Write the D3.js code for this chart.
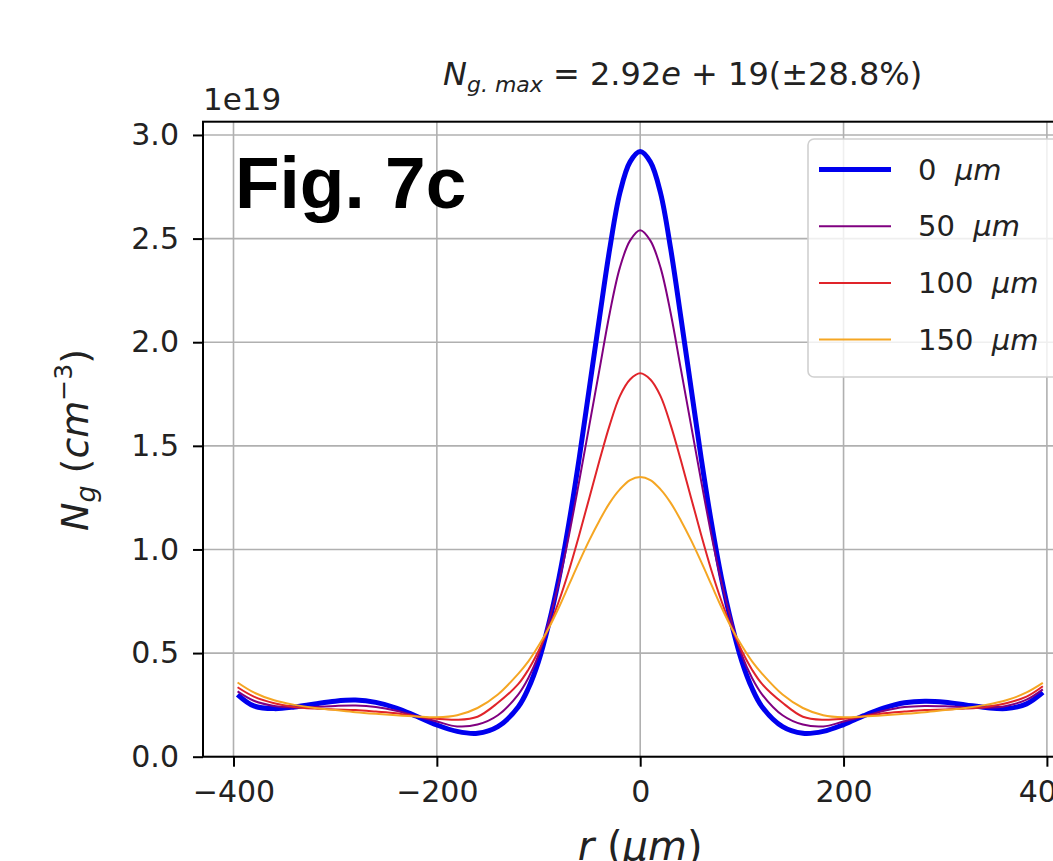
<!DOCTYPE html>
<html>
<head>
<meta charset="utf-8">
<script src="https://cdn.jsdelivr.net/npm/d3@7"></script>
<style>
  body { margin: 0; background: #fff; }
  text { font-family: "DejaVu Sans", sans-serif; }
</style>
</head>
<body>
<div id="chart"></div>
<script>
// radial positions (um) and gas density (1e19 cm^-3)
const radius = [-396, -380, -360, -340, -320, -300, -280, -260, -240, -220, -200, -180, -160, -140,
  -120, -110, -100, -90, -80, -70, -60, -50, -40, -30, -20, -10, 0,
  10, 20, 30, 40, 50, 60, 70, 80, 90, 100, 110, 120,
  140, 160, 180, 200, 220, 240, 260, 280, 300, 320, 340, 360, 380, 396];

const dens0 = [0.30, 0.245, 0.232, 0.24, 0.255, 0.268, 0.273, 0.262, 0.235, 0.195, 0.153, 0.122, 0.113, 0.145,
  0.24, 0.33, 0.46, 0.64, 0.86, 1.13, 1.44, 1.78, 2.12, 2.45, 2.72, 2.87, 2.92,
  2.87, 2.72, 2.45, 2.12, 1.78, 1.44, 1.13, 0.86, 0.64, 0.46, 0.33, 0.24,
  0.145, 0.113, 0.122, 0.155, 0.198, 0.235, 0.26, 0.268, 0.263, 0.25, 0.237, 0.232, 0.255, 0.31];

const dens50 = [0.315, 0.27, 0.245, 0.238, 0.24, 0.245, 0.247, 0.24, 0.222, 0.195, 0.17, 0.146, 0.155, 0.20,
  0.30, 0.38, 0.49, 0.65, 0.84, 1.07, 1.33, 1.60, 1.87, 2.14, 2.36, 2.49, 2.54,
  2.49, 2.36, 2.14, 1.87, 1.60, 1.33, 1.07, 0.84, 0.65, 0.49, 0.38, 0.30,
  0.20, 0.155, 0.146, 0.17, 0.195, 0.222, 0.24, 0.245, 0.243, 0.238, 0.236, 0.245, 0.275, 0.325];

const dens100 = [0.335, 0.29, 0.258, 0.24, 0.232, 0.228, 0.225, 0.218, 0.21, 0.195, 0.183, 0.178, 0.193, 0.26,
  0.35, 0.42, 0.51, 0.62, 0.75, 0.90, 1.07, 1.25, 1.43, 1.60, 1.74, 1.82, 1.85,
  1.82, 1.74, 1.60, 1.43, 1.25, 1.07, 0.90, 0.75, 0.62, 0.51, 0.42, 0.35,
  0.26, 0.193, 0.178, 0.183, 0.195, 0.21, 0.218, 0.225, 0.228, 0.232, 0.24, 0.258, 0.29, 0.34];

const dens150 = [0.358, 0.31, 0.272, 0.25, 0.235, 0.225, 0.215, 0.207, 0.20, 0.194, 0.19, 0.20, 0.235, 0.30,
  0.40, 0.46, 0.535, 0.62, 0.72, 0.83, 0.94, 1.045, 1.14, 1.225, 1.29, 1.335, 1.35,
  1.335, 1.29, 1.225, 1.14, 1.045, 0.94, 0.83, 0.72, 0.62, 0.535, 0.46, 0.40,
  0.30, 0.235, 0.20, 0.19, 0.194, 0.20, 0.207, 0.215, 0.225, 0.235, 0.25, 0.272, 0.31, 0.356];

const seriesNames = ["0", "50", "100", "150"];
const seriesColors = ["#0000ee", "#800080", "#e0242a", "#f5a623"];
const seriesWidths = [5, 2, 2, 2];
const xTicks = [-400, -200, 0, 200, 400];
const yTicks = [0, 0.5, 1.0, 1.5, 2.0, 2.5, 3.0];

const width = 1053, height = 861;
const margin = {top: 121.7, left: 203, bottom: 104.3};
const plotRight = 1077.4;

const svg = d3.select("#chart").append("svg")
  .attr("width", width)
  .attr("height", height);

const x = d3.scaleLinear()
  .domain([-430, 430])
  .range([margin.left, plotRight]);

const y = d3.scaleLinear()
  .domain([0, 3.064])
  .range([height - margin.bottom, margin.top]);

// grid
svg.append("g")
  .selectAll("line")
  .data(xTicks)
  .join("line")
    .attr("x1", d => x(d)).attr("x2", d => x(d))
    .attr("y1", y(0)).attr("y2", y(3.064))
    .attr("stroke", "#b0b0b0").attr("stroke-width", 1.6);

svg.append("g")
  .selectAll("line")
  .data(yTicks)
  .join("line")
    .attr("x1", x(-430)).attr("x2", x(430))
    .attr("y1", d => y(d)).attr("y2", d => y(d))
    .attr("stroke", "#b0b0b0").attr("stroke-width", 1.6);

const line = d3.line()
  .curve(d3.curveCatmullRom)
  .x((d, i) => x(radius[i]))
  .y(d => y(d));

const allSeries = [dens0, dens50, dens100, dens150];

svg.append("g")
  .attr("fill", "none")
  .attr("stroke-linejoin", "round")
  .selectAll("path")
  .data(allSeries)
  .join("path")
    .attr("stroke", (d, i) => seriesColors[i])
    .attr("stroke-width", (d, i) => seriesWidths[i])
    .attr("d", line);

// axes
const xAxis = g => g
  .attr("transform", `translate(0,${y(0)})`)
  .call(d3.axisBottom(x).tickValues(xTicks).tickSize(10).tickPadding(14)
    .tickFormat(d => d < 0 ? "\u2212" + Math.abs(d) : d))
  .call(g => g.select(".domain").remove())
  .call(g => g.selectAll(".tick line").attr("stroke", "#000").attr("stroke-width", 2))
  .call(g => g.selectAll(".tick text").attr("font-size", 30).attr("fill", "#222"));

const yAxis = g => g
  .attr("transform", `translate(${margin.left},0)`)
  .call(d3.axisLeft(y).tickValues(yTicks).tickSize(10).tickPadding(14)
    .tickFormat(d3.format(".1f")))
  .call(g => g.select(".domain").remove())
  .call(g => g.selectAll(".tick line").attr("stroke", "#000").attr("stroke-width", 2))
  .call(g => g.selectAll(".tick text").attr("font-size", 30).attr("fill", "#222"));

svg.append("g").call(xAxis);
svg.append("g").call(yAxis);

// frame
svg.append("rect")
  .attr("x", x(-430)).attr("y", y(3.064))
  .attr("width", x(430) - x(-430)).attr("height", y(0) - y(3.064))
  .attr("fill", "none").attr("stroke", "#000").attr("stroke-width", 2);

// offset text
svg.append("text")
  .attr("x", margin.left).attr("y", 110)
  .attr("font-size", 31).attr("fill", "#222")
  .text("1e19");

// title
const title = svg.append("text")
  .attr("x", 443).attr("y", 85)
  .attr("font-size", 32).attr("fill", "#222");
title.append("tspan").attr("font-style", "italic").text("N");
title.append("tspan").attr("font-style", "italic").attr("font-size", 22).attr("dy", 7).text("g. max");
title.append("tspan").attr("dy", -7).text(" = 2.92");
title.append("tspan").attr("font-style", "italic").text("e");
title.append("tspan").text(" + 19(\u00b128.8%)");

// axis labels
const xl = svg.append("text")
  .attr("x", x(0)).attr("y", 860)
  .attr("text-anchor", "middle")
  .attr("font-size", 40).attr("fill", "#222");
xl.append("tspan").attr("font-style", "italic").text("r");
xl.append("tspan").text(" (");
xl.append("tspan").attr("font-style", "italic").text("\u03bcm");
xl.append("tspan").text(")");

const yl = svg.append("text")
  .attr("transform", `translate(88,440) rotate(-90)`)
  .attr("text-anchor", "middle")
  .attr("font-size", 38).attr("fill", "#222");
yl.append("tspan").attr("font-style", "italic").text("N");
yl.append("tspan").attr("font-style", "italic").attr("font-size", 27).attr("dy", 7).text("g");
yl.append("tspan").attr("dy", -7).text(" (");
yl.append("tspan").attr("font-style", "italic").text("cm");
yl.append("tspan").attr("font-size", 25).attr("dy", -16).text("\u22123");
yl.append("tspan").attr("dy", 16).text(")");

// figure tag
svg.append("text")
  .attr("x", 235).attr("y", 208)
  .style("font-family", "'Liberation Sans', Arial, sans-serif")
  .attr("font-weight", "bold")
  .attr("font-size", 73)
  .attr("fill", "#000")
  .text("Fig. 7c");

// legend
const legend = svg.append("g");
legend.append("rect")
  .attr("x", 808).attr("y", 139)
  .attr("width", 300).attr("height", 238)
  .attr("rx", 6)
  .attr("fill", "#fff").attr("fill-opacity", 0.8)
  .attr("stroke", "#d0d0d0").attr("stroke-width", 1.6);

const rows = legend.selectAll("g.row")
  .data(seriesNames)
  .join("g")
    .attr("class", "row")
    .attr("transform", (d, i) => `translate(0,${169.5 + i * 56.7})`);

rows.append("line")
  .attr("x1", 819).attr("x2", 891)
  .attr("stroke", (d, i) => seriesColors[i])
  .attr("stroke-width", (d, i) => seriesWidths[i]);

const lt = rows.append("text")
  .attr("x", 918).attr("y", 10)
  .attr("font-size", 29).attr("fill", "#222");
lt.append("tspan").text(d => d + "\u00a0");
lt.append("tspan").attr("font-style", "italic").text("\u00a0\u03bcm");
</script>
</body>
</html>
